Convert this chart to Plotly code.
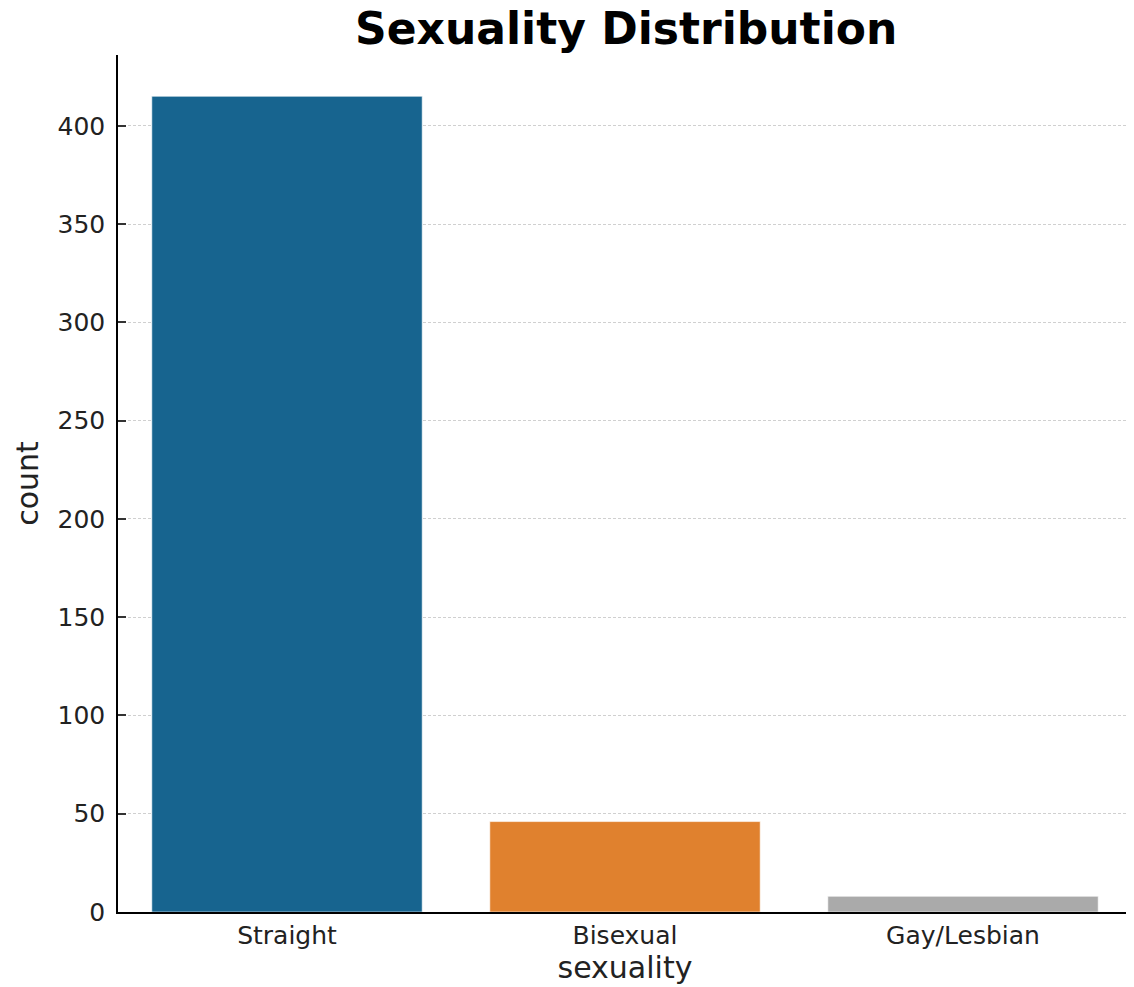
import plotly.graph_objects as go

categories = ["Straight", "Bisexual", "Gay/Lesbian"]
counts = [415, 46, 8]
bar_colors = ["#17648f", "#e0812e", "#aaaaaa"]
y_ticks = [0, 50, 100, 150, 200, 250, 300, 350, 400]

FONT = "DejaVu Sans"

fig = go.Figure()
fig.add_trace(go.Bar(
    x=categories,
    y=counts,
    width=0.8,
    marker=dict(color=bar_colors, line=dict(color="rgba(255,255,255,0.6)", width=1)),
    showlegend=False,
))

W, H = 1126, 979

fig.update_layout(
    width=W,
    height=H,
    margin=dict(l=110, r=2, t=47, b=75),
    paper_bgcolor="white",
    plot_bgcolor="white",
    font=dict(family=FONT, size=25, color="#222222"),
    title=dict(
        text="<b>Sexuality Distribution</b>",
        font=dict(family=FONT, size=44, color="black"),
        x=0.549, xanchor="center",
        y=1 - 21 / H, yanchor="middle",
        yref="container",
    ),
    bargap=0.2,
)

fig.update_xaxes(
    range=[-0.5, 2.5],
    showline=True, linecolor="black", linewidth=1.5,
    ticks="", showgrid=False,
    tickfont=dict(family=FONT, size=25, color="#222222"),
    title=dict(text="sexuality", font=dict(family=FONT, size=30, color="#222222"), standoff=4),
)
fig.update_yaxes(
    range=[0, 436],
    tickvals=y_ticks,
    showline=True, linecolor="black", linewidth=1.5,
    ticks="inside", ticklen=8, tickcolor="#333333", tickwidth=1.5,
    ticklabelstandoff=6,
    showgrid=True, gridcolor="#d0d0d0", gridwidth=1, griddash="3px,2px",
    zeroline=False,
    tickfont=dict(family=FONT, size=25, color="#222222"),
    title=dict(text="count", font=dict(family=FONT, size=30, color="#222222"), standoff=10),
)

fig.write_html("out.html")
